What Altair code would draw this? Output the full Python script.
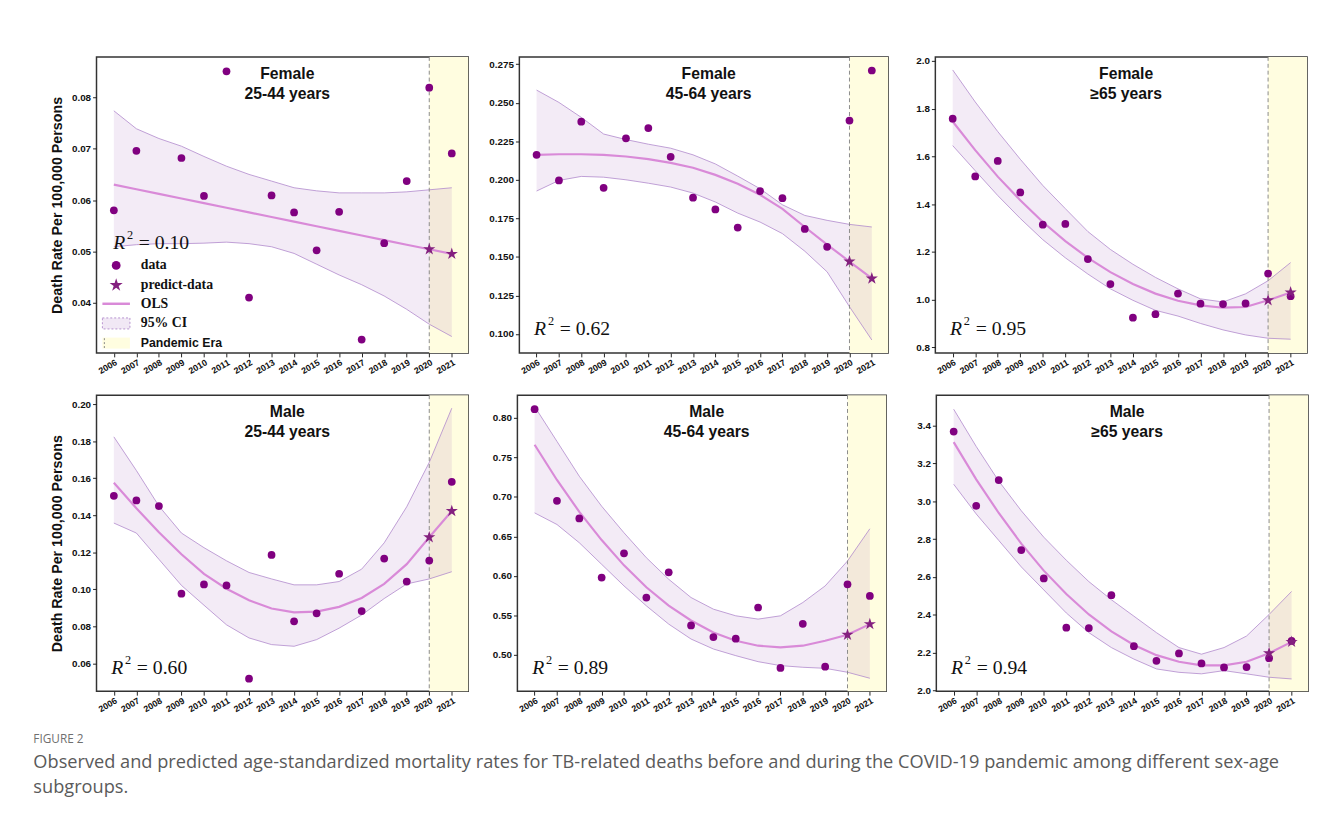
import altair as alt
import pandas as pd

# ---------------- data ----------------
YEARS = [2006, 2007, 2008, 2009, 2010, 2011, 2012, 2013, 2014, 2015, 2016, 2017, 2018, 2019, 2020, 2021]
PRED_YEARS = [2020, 2021]
X_DOMAIN = [2005.23, 2021.73]
PANDEMIC_START = [2020]
PANDEMIC_END = [X_DOMAIN[1]]

TITLES = ["Female\n25-44 years", "Female\n45-64 years", "Female\n≥65 years",
          "Male\n25-44 years", "Male\n45-64 years", "Male\n≥65 years"]
R2_VALUES = ["0.10", "0.62", "0.95", "0.60", "0.89", "0.94"]
Y_TITLE = "Death Rate Per 100,000 Persons"
LEGEND_LABELS = ["data", "predict-data", "OLS", "95% CI", "Pandemic Era"]
CAPTION_HEAD = "FIGURE 2"
CAPTION_LINES = [
    "Observed and predicted age-standardized mortality rates for TB-related deaths before and during the COVID-19 pandemic among different sex-age",
    "subgroups.",
]

F25_OBS = [0.0580, 0.0696, None, 0.0682, 0.0608, 0.0851, 0.0410, 0.0609, 0.0576, 0.0502, 0.0577, 0.0328, 0.0516, 0.0637, 0.0819, 0.0691]
F25_FIT = [0.0630, 0.0621, 0.0612, 0.0603, 0.0594, 0.0585, 0.0576, 0.0567, 0.0558, 0.0549, 0.0540, 0.0531, 0.0522, 0.0513, 0.0504, 0.0495]
F25_HI = [0.0774, 0.0739, 0.0720, 0.0705, 0.0685, 0.0666, 0.0650, 0.0637, 0.0624, 0.0618, 0.0614, 0.0614, 0.0614, 0.0616, 0.0620, 0.0624]
F25_LO = [0.0509, 0.0513, 0.0515, 0.0515, 0.0516, 0.0518, 0.0515, 0.0509, 0.0496, 0.0475, 0.0454, 0.0435, 0.0413, 0.0387, 0.0358, 0.0334]
F25_PRED = [0.0504, 0.0495]

F45_OBS = [0.2162, 0.1996, 0.2377, 0.1948, 0.2269, 0.2336, 0.2149, 0.1884, 0.1808, 0.1690, 0.1927, 0.1881, 0.1681, 0.1565, 0.2384, 0.2709]
F45_FIT = [0.2162, 0.2166, 0.2166, 0.2162, 0.2151, 0.2134, 0.2110, 0.2078, 0.2032, 0.1974, 0.1903, 0.1812, 0.1694, 0.1580, 0.1470, 0.1360]
F45_HI = [0.2582, 0.2502, 0.2405, 0.2297, 0.2261, 0.2231, 0.2205, 0.2162, 0.2103, 0.2024, 0.1942, 0.1838, 0.1769, 0.1737, 0.1711, 0.1694]
F45_LO = [0.1927, 0.1996, 0.2022, 0.2017, 0.2000, 0.1978, 0.1953, 0.1914, 0.1856, 0.1784, 0.1726, 0.1651, 0.1537, 0.1403, 0.1177, 0.0961]
F45_PRED = [0.1470, 0.1360]

F65_OBS = [1.758, 1.516, 1.581, 1.449, 1.314, 1.317, 1.170, 1.065, 0.924, 0.939, 1.025, 0.983, 0.981, 0.984, 1.109, 1.014]
F65_FIT = [1.746, 1.626, 1.515, 1.416, 1.325, 1.245, 1.175, 1.115, 1.065, 1.025, 0.995, 0.976, 0.966, 0.969, 0.997, 1.030]
F65_HI = [1.962, 1.828, 1.704, 1.588, 1.478, 1.381, 1.285, 1.210, 1.148, 1.093, 1.045, 1.003, 0.990, 1.024, 1.079, 1.155]
F65_LO = [1.645, 1.540, 1.436, 1.340, 1.251, 1.175, 1.107, 1.045, 0.997, 0.955, 0.931, 0.900, 0.873, 0.852, 0.838, 0.834]
F65_PRED = [0.997, 1.030]

M25_OBS = [0.1505, 0.1480, 0.1450, 0.0976, 0.1026, 0.1021, 0.0517, 0.1186, 0.0827, 0.0870, 0.1084, 0.0882, 0.1166, 0.1042, 0.1155, 0.1581]
M25_FIT = [0.1576, 0.1438, 0.1308, 0.1189, 0.1083, 0.1003, 0.0941, 0.0896, 0.0875, 0.0879, 0.0905, 0.0953, 0.1029, 0.1136, 0.1281, 0.1423]
M25_HI = [0.1824, 0.1642, 0.1450, 0.1304, 0.1225, 0.1154, 0.1091, 0.1056, 0.1024, 0.1024, 0.1042, 0.1109, 0.1251, 0.1446, 0.1686, 0.1979]
M25_LO = [0.1358, 0.1304, 0.1162, 0.1021, 0.0914, 0.0808, 0.0737, 0.0701, 0.0692, 0.0728, 0.0790, 0.0861, 0.0950, 0.1029, 0.1056, 0.1095]
M25_PRED = [0.1281, 0.1423]

M45_OBS = [0.8109, 0.6950, 0.6727, 0.5979, 0.6286, 0.5727, 0.6046, 0.5374, 0.5227, 0.5206, 0.5601, 0.4836, 0.5395, 0.4853, 0.5895, 0.5748]
M45_FIT = [0.7660, 0.7214, 0.6811, 0.6454, 0.6134, 0.5857, 0.5626, 0.5437, 0.5286, 0.5181, 0.5118, 0.5097, 0.5118, 0.5181, 0.5256, 0.5391]
M45_HI = [0.8143, 0.7702, 0.7261, 0.6882, 0.6546, 0.6231, 0.5958, 0.5727, 0.5580, 0.5496, 0.5454, 0.5496, 0.5664, 0.5874, 0.6189, 0.6597]
M45_LO = [0.6798, 0.6651, 0.6420, 0.6147, 0.5874, 0.5622, 0.5391, 0.5202, 0.5076, 0.4992, 0.4916, 0.4866, 0.4845, 0.4832, 0.4782, 0.4706]
M45_PRED = [0.5256, 0.5391]

M65_OBS = [3.369, 2.976, 3.112, 2.742, 2.592, 2.331, 2.329, 2.503, 2.233, 2.156, 2.195, 2.142, 2.121, 2.123, 2.170, 2.261]
M65_FIT = [3.313, 3.116, 2.938, 2.776, 2.633, 2.509, 2.401, 2.312, 2.240, 2.186, 2.151, 2.132, 2.132, 2.151, 2.196, 2.256]
M65_HI = [3.487, 3.290, 3.107, 2.950, 2.810, 2.688, 2.575, 2.479, 2.392, 2.305, 2.226, 2.191, 2.226, 2.287, 2.401, 2.523]
M65_LO = [3.090, 2.933, 2.793, 2.653, 2.531, 2.409, 2.305, 2.226, 2.165, 2.113, 2.095, 2.087, 2.104, 2.087, 2.069, 2.060]
M65_PRED = [2.196, 2.256]

F25_TICKS = [0.04, 0.05, 0.06, 0.07, 0.08]
F45_TICKS = [0.100, 0.125, 0.150, 0.175, 0.200, 0.225, 0.250, 0.275]
F65_TICKS = [0.8, 1.0, 1.2, 1.4, 1.6, 1.8, 2.0]
M25_TICKS = [0.06, 0.08, 0.10, 0.12, 0.14, 0.16, 0.18, 0.20]
M45_TICKS = [0.50, 0.55, 0.60, 0.65, 0.70, 0.75, 0.80]
M65_TICKS = [2.0, 2.2, 2.4, 2.6, 2.8, 3.0, 3.2, 3.4]

# ---------------- style ----------------
PURPLE = "#800080"
STAR_COLOR = "#84207f"
LINE_COLOR = "#d98ad8"
CI_FILL = "#9b59b6"
CI_EDGE = "#b089cc"
YELLOW = "#fffde0"
FONT = "Liberation Sans"
SERIF = "Liberation Serif"
STAR = ("M0,-1L0.2245,-0.309L0.951,-0.309L0.3633,0.118L0.588,0.809L0,0.382"
        "L-0.588,0.809L-0.3633,0.118L-0.951,-0.309L-0.2245,-0.309Z")
BOX = "M-1,-0.4L1,-0.4L1,0.4L-1,0.4Z"
VBAR = "M0,-1L0,1"
W = [378, 375, 378]
H = 301


def panel(obs, fit, hi, lo, pred, title, r2, ydom, yticks, yfmt, width, left=False, legend=False):
    df = pd.DataFrame({"year": YEARS, "obs": obs, "fit": fit, "hi": hi, "lo": lo})
    obs_df = df.dropna(subset=["obs"])
    pred_df = pd.DataFrame({"year": PRED_YEARS, "pred": pred})
    era_df = pd.DataFrame({"start": PANDEMIC_START, "end": PANDEMIC_END})
    xs = alt.Scale(domain=X_DOMAIN, nice=False, zero=False)
    ys = alt.Scale(domain=ydom, nice=False, zero=False)
    xaxis = alt.Axis(values=YEARS, format="d", labelAngle=330, labelAlign="right", labelBaseline="top",
                     labelFontSize=9, labelFont=FONT, labelFontWeight="bold", labelColor="#111",
                     tickSize=4, tickColor="#222", labelPadding=1, labelOverlap=False, labelFlush=False,
                     domain=False, grid=False, title=None)
    yaxis_kw = dict(values=yticks, format=yfmt, labelFontSize=10, labelFont=FONT, labelFontWeight="bold",
                    labelColor="#111", tickSize=4, tickColor="#222", labelPadding=2, domain=False,
                    grid=False, labelOverlap=False)
    if left:
        yaxis = alt.Axis(title=Y_TITLE, titleFont=FONT, titleFontSize=14.5, titleFontWeight="bold",
                         titleColor="#111", titlePadding=7, **yaxis_kw)
    else:
        yaxis = alt.Axis(title=None, **yaxis_kw)
    ytitle = Y_TITLE if left else None

    def X(field):
        return alt.X(field, scale=xs, axis=xaxis, title=None)

    def Y(field):
        return alt.Y(field, scale=ys, axis=yaxis, title=ytitle)

    yellow = alt.Chart(era_df).mark_rect(color=YELLOW).encode(x=X("start:Q"), x2="end:Q")
    band = alt.Chart(df).mark_area(color=CI_FILL, opacity=0.12).encode(x=X("year:Q"), y=Y("lo:Q"), y2="hi:Q")
    hi_line = alt.Chart(df).mark_line(color=CI_EDGE, strokeWidth=0.8).encode(x=X("year:Q"), y=Y("hi:Q"))
    lo_line = alt.Chart(df).mark_line(color=CI_EDGE, strokeWidth=0.8).encode(x=X("year:Q"), y=Y("lo:Q"))
    rule = alt.Chart(era_df).mark_rule(color="#8a8a8a", strokeDash=[4, 3], strokeWidth=1).encode(x=X("start:Q"))
    fit_line = alt.Chart(df).mark_line(color=LINE_COLOR, strokeWidth=2.2).encode(x=X("year:Q"), y=Y("fit:Q"))
    pts = alt.Chart(obs_df).mark_point(shape="circle", filled=True, size=62, color=PURPLE, opacity=1).encode(
        x=X("year:Q"), y=Y("obs:Q"))
    stars = alt.Chart(pred_df).mark_point(shape=STAR, filled=True, size=169, color=STAR_COLOR, opacity=1).encode(
        x=X("year:Q"), y=Y("pred:Q"))

    tdf = pd.DataFrame({"t": [title]})
    ttl = alt.Chart(tdf).mark_text(align="center", baseline="top", lineBreak="\n", lineHeight=21,
                                    fontSize=16, fontWeight="bold", font=FONT, color="#111").encode(
        x=alt.value(width / 2 + 5), y=alt.value(9), text="t:N")

    if legend:
        rx, ry = 17, 189
    else:
        rx, ry = 15, H - 24
    rdf = pd.DataFrame({"r": ["R"], "s": ["2"], "v": ["= " + r2]})
    r_txt = alt.Chart(rdf).mark_text(align="left", baseline="middle", font=SERIF, fontStyle="italic",
                                      fontSize=20, color="#111").encode(
        x=alt.value(rx), y=alt.value(ry), text="r:N")
    s_txt = alt.Chart(rdf).mark_text(align="left", baseline="middle", font=SERIF, fontSize=12.5,
                                      color="#111").encode(
        x=alt.value(rx + 14), y=alt.value(ry - 8), text="s:N")
    v_txt = alt.Chart(rdf).mark_text(align="left", baseline="middle", font=SERIF, fontSize=20,
                                      color="#111").encode(
        x=alt.value(rx + 26), y=alt.value(ry), text="v:N")

    layers = [yellow, band, hi_line, lo_line, rule, fit_line, pts, stars, ttl, r_txt, s_txt, v_txt]

    if legend:
        rows = [212, 232, 251, 271, 291]
        one = lambda i: pd.DataFrame({"label": [LEGEND_LABELS[i]]})
        layers += [
            alt.Chart(one(0)).mark_point(shape="circle", filled=True, size=80, color=PURPLE, opacity=1).encode(
                x=alt.value(20), y=alt.value(rows[0])),
            alt.Chart(one(1)).mark_point(shape=STAR, filled=True, size=196, color=STAR_COLOR, opacity=1).encode(
                x=alt.value(20), y=alt.value(rows[1])),
            alt.Chart(one(2)).mark_point(shape="stroke", filled=False, size=784, color=LINE_COLOR,
                                         strokeWidth=2.5, opacity=1).encode(
                x=alt.value(20), y=alt.value(rows[2])),
            alt.Chart(one(3)).mark_point(shape=BOX, size=784, fill="#f1e8f5", stroke="#a77bc4",
                                         strokeDash=[2, 2], strokeWidth=0.8, opacity=1, fillOpacity=1).encode(
                x=alt.value(20), y=alt.value(rows[3])),
            alt.Chart(one(4)).mark_point(shape=BOX, size=784, fill=YELLOW, filled=True, strokeWidth=0,
                                         opacity=1, fillOpacity=1).encode(
                x=alt.value(20), y=alt.value(rows[4])),
            alt.Chart(one(4)).mark_point(shape=VBAR, size=100, filled=False, color="#8a8a8a",
                                         strokeDash=[2, 2], strokeWidth=1, opacity=1).encode(
                x=alt.value(8), y=alt.value(rows[4])),
        ]
        for i in range(4):
            layers.append(alt.Chart(one(i)).mark_text(align="left", baseline="middle", font=SERIF,
                                                       fontWeight="bold", fontSize=14, color="#111").encode(
                x=alt.value(45), y=alt.value(rows[i]), text="label:N"))
        layers.append(alt.Chart(one(4)).mark_text(align="left", baseline="middle", font=FONT,
                                                   fontWeight="bold", fontSize=12.5, color="#111").encode(
            x=alt.value(45), y=alt.value(rows[4]), text="label:N"))

    return alt.layer(*layers).properties(width=width, height=H)


p1 = panel(F25_OBS, F25_FIT, F25_HI, F25_LO, F25_PRED, TITLES[0], R2_VALUES[0], [0.0302, 0.0879], F25_TICKS, ".2f", W[0], left=True, legend=True)
p2 = panel(F45_OBS, F45_FIT, F45_HI, F45_LO, F45_PRED, TITLES[1], R2_VALUES[1], [0.0877, 0.2797], F45_TICKS, ".3f", W[1])
p3 = panel(F65_OBS, F65_FIT, F65_HI, F65_LO, F65_PRED, TITLES[2], R2_VALUES[2], [0.7765, 2.0165], F65_TICKS, ".1f", W[2])
p4 = panel(M25_OBS, M25_FIT, M25_HI, M25_LO, M25_PRED, TITLES[3], R2_VALUES[3], [0.0449, 0.2049], M25_TICKS, ".2f", W[0], left=True)
p5 = panel(M45_OBS, M45_FIT, M45_HI, M45_LO, M45_PRED, TITLES[4], R2_VALUES[4], [0.4542, 0.8286], M45_TICKS, ".2f", W[1])
p6 = panel(M65_OBS, M65_FIT, M65_HI, M65_LO, M65_PRED, TITLES[5], R2_VALUES[5], [1.995, 3.561], M65_TICKS, ".1f", W[2])

row1 = alt.hconcat(p1, alt.hconcat(p2, p3, spacing=26), spacing=19)
row2 = alt.hconcat(p4, alt.hconcat(p5, p6, spacing=29), spacing=22)

chart = alt.vconcat(row1, row2, spacing=17).properties(
    padding={"left": 25, "top": 41, "right": 2, "bottom": 5},
    title=alt.TitleParams(
        text=CAPTION_HEAD, subtitle=CAPTION_LINES, orient="bottom", anchor="start", dx=-16, offset=20,
        font="Open Sans", fontSize=12, fontWeight="normal", color="#6f6f6f",
        subtitleFont="Open Sans", subtitleFontSize=18.5, subtitleColor="#5a5a5a",
        subtitleLineHeight=25, subtitlePadding=8,
    ),
).configure_view(stroke="#333333", strokeWidth=1.5)

chart.save("out.html", embed_options={"renderer": "svg", "actions": False})
